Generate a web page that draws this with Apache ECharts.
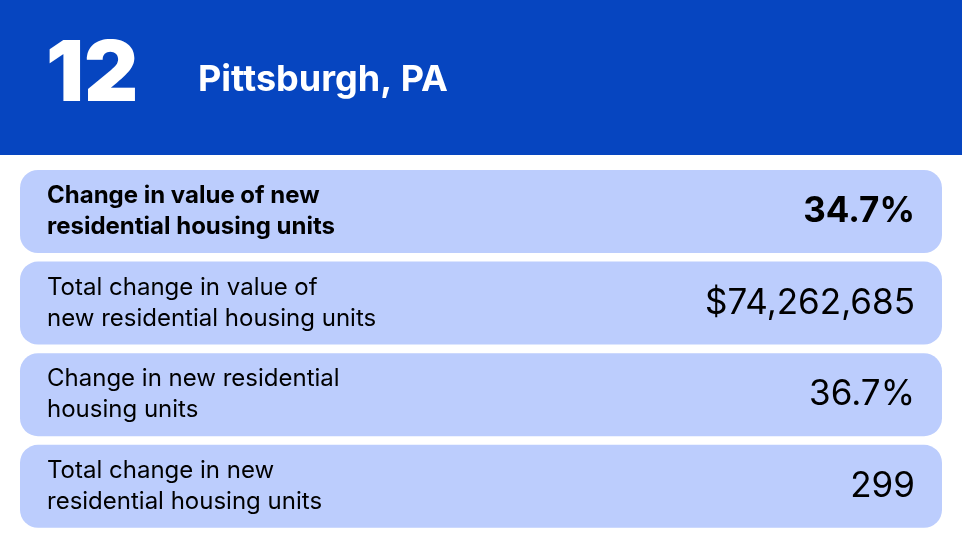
<!DOCTYPE html>
<html>
<head>
<meta charset="utf-8">
<script src="https://cdn.jsdelivr.net/npm/echarts@6/dist/echarts.min.js"></script>
<style>
  html, body { margin: 0; padding: 0; background: #fff; }
  #main { width: 962px; height: 550px; }
</style>
</head>
<body>
<div id="main"></div>
<script>
var rank = '12';
var city = 'Pittsburgh, PA';
var labels = [
    'Change in value of new\nresidential housing units',
    'Total change in value of\nnew residential housing units',
    'Change in new residential\nhousing units',
    'Total change in new\nresidential housing units'
];
var values = ['34.7%', '$74,262,685', '36.7%', '299'];
var boldRow = [true, false, false, false];

var myChart = echarts.init(document.getElementById('main'));
var font = 'Inter, "Open Sans", sans-serif';

var elements = [
    { type: 'rect', shape: { x: 0, y: 0, width: 962, height: 155 }, style: { fill: '#0645c0' } },
    { type: 'text', x: 46, y: 118, style: { text: rank, font: '900 84px ' + font, fill: '#fff', textVerticalAlign: 'bottom', textBaseline: 'bottom' } },
    { type: 'text', x: 198, y: 80, style: { text: city, font: 'bold 36px ' + font, fill: '#fff', textVerticalAlign: 'middle', textBaseline: 'middle' } }
];

// rows
var rowTop = 170, rowH = 83, rowGap = 8.6;
labels.forEach(function (lab, i) {
    var y = rowTop + i * (rowH + rowGap);
    elements.push({
        type: 'rect',
        shape: { x: 20, y: y, width: 922, height: rowH, r: 18 },
        style: { fill: '#bccdfd' }
    });
    elements.push({
        type: 'text', x: 47, y: y + rowH / 2,
        style: {
            text: lab, font: (boldRow[i] ? 'bold ' : '') + '24px ' + font,
            fill: '#000', lineHeight: 31, textVerticalAlign: 'middle', textBaseline: 'middle'
        }
    });
    elements.push({
        type: 'text', x: 915, y: y + rowH / 2,
        style: {
            text: values[i], font: (boldRow[i] ? 'bold ' : '') + '35px ' + font,
            fill: '#000', textAlign: 'right', textVerticalAlign: 'middle', textBaseline: 'middle'
        }
    });
});

option = {
    animation: false,
    graphic: { elements: elements }
};
myChart.setOption(option);
</script>
</body>
</html>
